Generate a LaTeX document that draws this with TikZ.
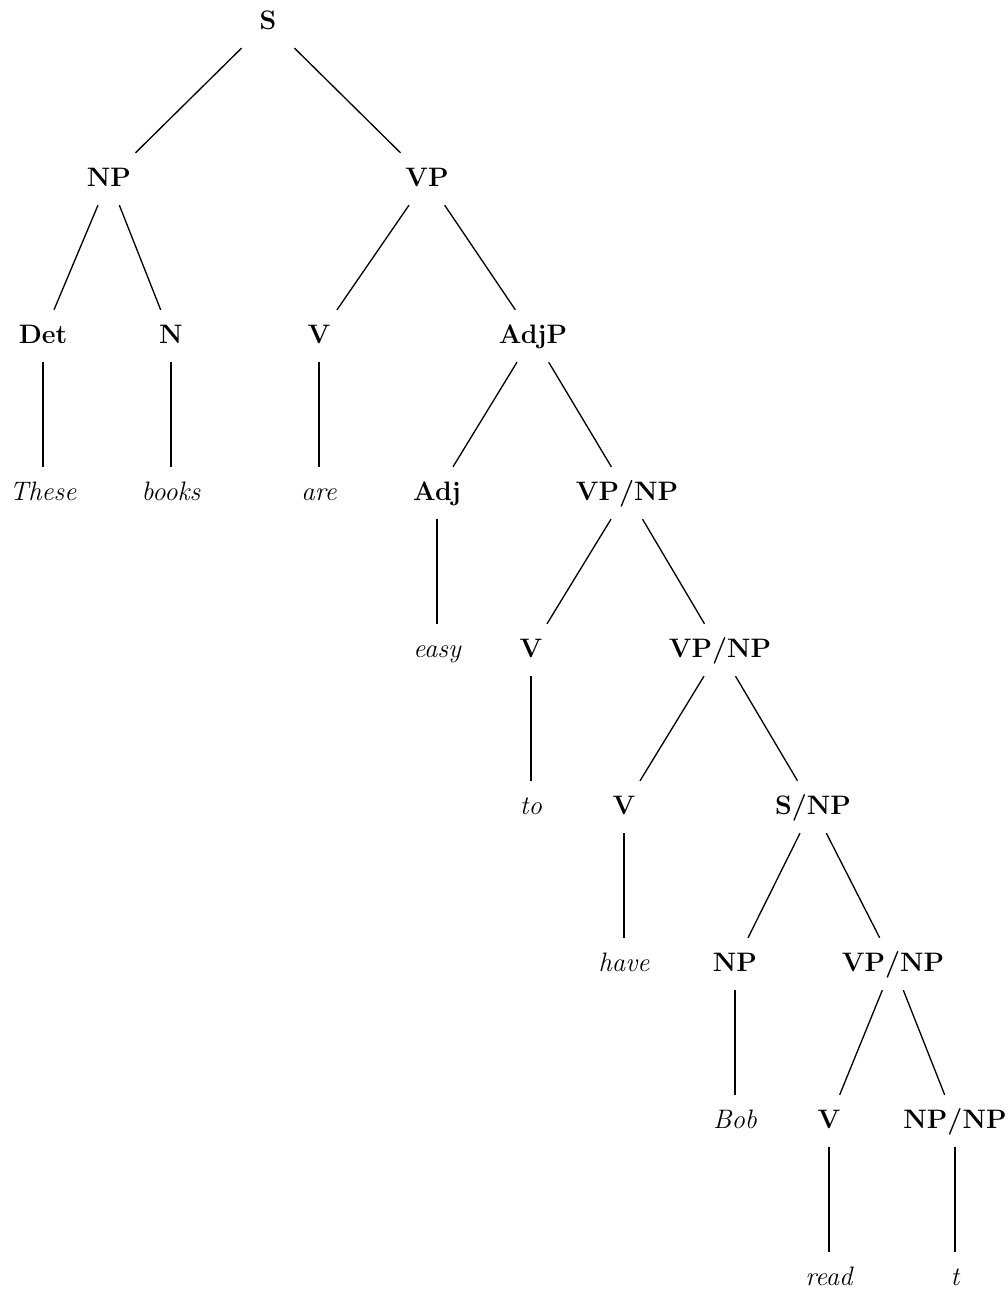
\documentclass[tikz,border=0pt]{standalone}
\usepackage{fix-cm}
\usepackage{tikz}
\usetikzlibrary{positioning}
\tikzset{
    %Define style for category labels
    cat/.style={
           rectangle,
           inner xsep=0pt,
           inner ysep=0.3cm,
           minimum width=1.6cm,
           text height=0.36cm,
           text depth=0.06cm,
           font=\fontsize{15.2}{18}\selectfont\bfseries,
           text centered},
    %Define style for the words at the leaves
    word/.style={
           cat,
           font=\fontsize{15.2}{18}\selectfont\itshape}
}
\begin{document}
\begin{tikzpicture}[on grid,node distance=3.14cm,line width=0.75pt]
\useasboundingbox (0,0) rectangle (20.16,-25.9);
\node[cat] (s) at (5.36,-0.44) {S};
\node[cat, below left=3.14cm and 3.18cm of s] (np) {NP};
\node[cat, below right=3.14cm and 3.18cm of s] (vp) {VP};
\node[cat, below left=3.14cm and 1.32cm of np] (det) {Det};
\node[cat, below right=3.14cm and 1.24cm of np] (n) {N};
\node[cat, below left=3.14cm and 2.16cm of vp] (v1) {V};
\node[cat, below right=3.14cm and 2.12cm of vp] (adjp) {AdjP};
\node[word, below=of det] (these) {These};
\node[word, below=of n] (books) {books};
\node[word, below=of v1] (are) {are};
\node[cat, below left=3.14cm and 1.92cm of adjp] (adj) {Adj};
\node[cat, below right=3.14cm and 1.88cm of adjp] (vpnp1) {VP/NP};
\node[word, below=of adj] (easy) {easy};
\node[cat, below left=3.14cm and 1.92cm of vpnp1] (v2) {V};
\node[cat, below right=3.14cm and 1.86cm of vpnp1] (vpnp2) {VP/NP};
\node[word, below=of v2] (to) {to};
\node[cat, below left=3.14cm and 1.92cm of vpnp2] (v3) {V};
\node[cat, below right=3.14cm and 1.86cm of vpnp2] (snp) {S/NP};
\node[word, below=of v3] (have) {have};
\node[cat, below left=3.14cm and 1.56cm of snp] (np2) {NP};
\node[cat, below right=3.14cm and 1.6cm of snp] (vpnp3) {VP/NP};
\node[word, below=of np2] (bob) {Bob};
\node[cat, below left=3.14cm and 1.28cm of vpnp3] (v4) {V};
\node[cat, below right=3.14cm and 1.24cm of vpnp3] (npnp) {NP/NP};
\node[word, below=of v4] (read) {read};
\node[word, below=of npnp] (t) {t};
 \draw
    (s) edge (np) edge (vp)
    (np) edge (det) edge (n)
    (vp) edge (v1) edge (adjp)
    (det) edge (these)
    (n) edge (books)
    (v1) edge (are)
    (adjp) edge (adj) edge (vpnp1)
    (adj) edge (easy)
    (vpnp1) edge (v2) edge (vpnp2)
    (v2) edge (to)
    (vpnp2) edge (v3) edge (snp)
    (v3) edge (have)
    (snp) edge (np2) edge (vpnp3)
    (np2) edge (bob)
    (vpnp3) edge (v4) edge (npnp)
    (v4) edge (read)
    (npnp) edge (t);
\end{tikzpicture}
\end{document}
